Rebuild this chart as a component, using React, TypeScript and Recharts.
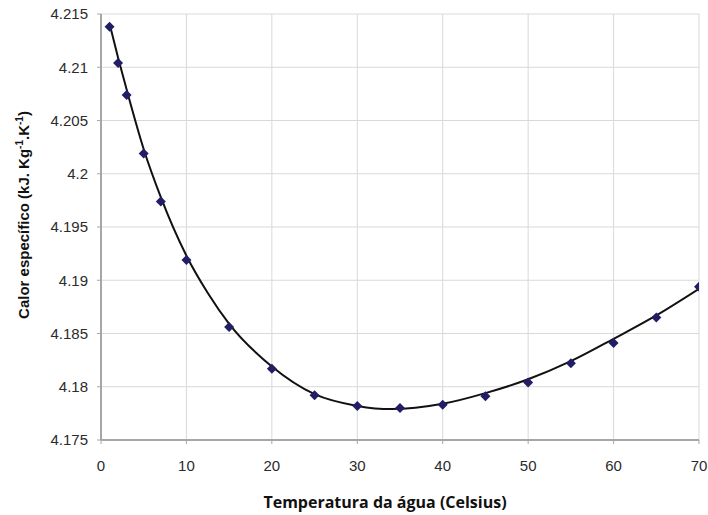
import { ComposedChart, Line, Scatter, XAxis, YAxis, CartesianGrid } from "recharts";

// measured points (temperature °C, specific heat kJ/kg.K)
const temps = [1, 2, 3, 5, 7, 10, 15, 20, 25, 30, 35, 40, 45, 50, 55, 60, 65, 70];
const heat = [4.2138, 4.2104, 4.2074, 4.2019, 4.1974, 4.1919, 4.1856, 4.1817, 4.1792, 4.1782, 4.178, 4.1783, 4.1791, 4.1804, 4.1822, 4.1841, 4.1865, 4.1894];

// trend line
const trendX = [1, 2, 3, 5, 7, 10, 12.5, 15, 20, 25, 30, 34, 40, 45, 50, 55, 60, 65, 70];
const trendY = [4.2141, 4.2109, 4.2079, 4.2023, 4.1978, 4.1923, 4.1888, 4.1859, 4.1819, 4.1793, 4.1782, 4.1779, 4.1784, 4.1794, 4.1807, 4.1824, 4.1845, 4.1867, 4.1892];

const xTicks = [0, 10, 20, 30, 40, 50, 60, 70];
const yTicks = [4.175, 4.18, 4.185, 4.19, 4.195, 4.2, 4.205, 4.21, 4.215];

const points = temps.map((x, i) => ({ x, y: heat[i] }));
const trend = trendX.map((x, i) => ({ x, y: trendY[i] }));

const tickStyle = { fontSize: 15, fill: "#2b2b2b", fontFamily: "'Liberation Sans', Arial, sans-serif" };
const axisStroke = "#a6a6a6";

const Diamond = (props: any) => {
  const { cx, cy } = props;
  return <polygon points={`${cx},${cy - 5} ${cx + 5},${cy} ${cx},${cy + 5} ${cx - 5},${cy}`} fill="#211e66" />;
};

const XTitle = ({ viewBox }: any) => (
  <text x={viewBox.x + viewBox.width / 2 - 15} y={508} textAnchor="middle" fontSize={16} fontWeight="bold"
    fontFamily="'Open Sans', sans-serif" fill="#111">
    Temperatura da água (Celsius)
  </text>
);

const YTitle = ({ viewBox }: any) => {
  const cy = viewBox.y + viewBox.height / 2 - 12;
  return (
    <text x={29} y={cy} transform={`rotate(-90 29 ${cy})`} textAnchor="middle" fontSize={15} fontWeight="bold"
      fontFamily="'Liberation Sans', Arial, sans-serif" fill="#111">
      Calor específico (kJ. Kg<tspan dy={-6} fontSize={10}>-1</tspan><tspan dy={6}>.K</tspan><tspan dy={-6} fontSize={10}>-1</tspan><tspan dy={6}>)</tspan>
    </text>
  );
};

export default function App() {
  return (
    <div style={{ position: "absolute", left: 0, top: 0, width: 708, height: 515, background: "#fff" }}>
      <ComposedChart width={708} height={515} margin={{ top: 14, right: 9, left: 0, bottom: 0 }}>
        <CartesianGrid stroke="#d9d9d9" strokeWidth={1} />
        <XAxis dataKey="x" type="number" domain={[0, 70]} ticks={xTicks} allowDataOverflow
          height={75} tick={tickStyle} tickSize={4} tickMargin={16}
          axisLine={{ stroke: axisStroke, strokeWidth: 2 }} tickLine={{ stroke: axisStroke }}
          label={<XTitle />} />
        <YAxis dataKey="y" type="number" domain={[4.175, 4.215]} ticks={yTicks} allowDataOverflow
          width={101} tick={tickStyle} tickSize={4} tickMargin={9}
          tickFormatter={(v) => String(Number(Number(v).toFixed(3)))}
          axisLine={{ stroke: axisStroke, strokeWidth: 2 }} tickLine={{ stroke: axisStroke }}
          label={<YTitle />} />
        <Line data={trend} dataKey="y" type="monotone" stroke="#111" strokeWidth={2} dot={false}
          isAnimationActive={false} />
        <Scatter data={points} dataKey="y" shape={<Diamond />} isAnimationActive={false} />
      </ComposedChart>
    </div>
  );
}
